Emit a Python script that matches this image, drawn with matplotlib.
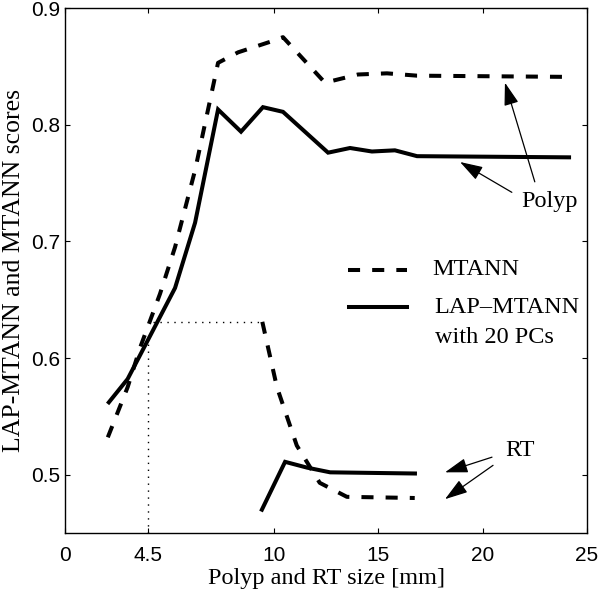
import matplotlib
matplotlib.use("Agg")
import matplotlib.pyplot as plt
from matplotlib.lines import Line2D

# ---- data ----
polyp_mtann_x = [2.05, 3.0, 3.6, 4.55, 5.27, 6.23, 7.33, 8.29, 9.82, 10.44, 12.45, 14.03, 15.42, 16.86, 23.8]
polyp_mtann_y = [0.532, 0.575, 0.609, 0.655, 0.695, 0.761, 0.853, 0.862, 0.871, 0.875, 0.836, 0.843, 0.844, 0.842, 0.841]

polyp_lap_x = [2.1, 3.0, 5.27, 6.23, 7.33, 8.43, 9.48, 10.44, 12.6, 13.65, 14.7, 15.8, 16.86, 24.14]
polyp_lap_y = [0.562, 0.582, 0.660, 0.716, 0.813, 0.794, 0.815, 0.811, 0.776, 0.780, 0.777, 0.778, 0.773, 0.772]

rt_mtann_x = [9.45, 10.15, 11.1, 12.2, 13.5, 16.75]
rt_mtann_y = [0.631, 0.575, 0.525, 0.493, 0.481, 0.480]

rt_lap_x = [9.43, 10.54, 11.6, 12.7, 16.76]
rt_lap_y = [0.470, 0.511, 0.506, 0.502, 0.501]

# dotted guide lines
guide_h_x = [4.2, 9.45]
guide_h_y = [0.631, 0.631]
guide_v_x = [3.97, 3.97]
guide_v_y = [0.45, 0.614]

xticks = [0, 3.97, 10, 15, 20, 25]
xticklabels = ["0", "4.5", "10", "15", "20", "25"]
yticks = [0.5, 0.6, 0.7, 0.8, 0.9]
yticklabels = ["0.5", "0.6", "0.7", "0.8", "0.9"]

serif = "Liberation Serif"
sans = "Liberation Sans"
tfs = 17.5

fig = plt.figure(figsize=(6.0, 5.94), dpi=100)
ax = fig.add_axes([65/600, (594-533)/594, 522/600, 525/594])

lw = 2.9
dash = (0, (3, 3))
ax.plot(polyp_mtann_x, polyp_mtann_y, color="black", lw=lw, linestyle=dash, dash_capstyle="butt")
ax.plot(polyp_lap_x, polyp_lap_y, color="black", lw=lw, solid_joinstyle="miter")
ax.plot(rt_mtann_x, rt_mtann_y, color="black", lw=lw, linestyle=dash, dash_capstyle="butt")
ax.plot(rt_lap_x, rt_lap_y, color="black", lw=lw, solid_joinstyle="miter")

ax.plot(guide_h_x, guide_h_y, color="black", lw=1.0, linestyle=(0, (1, 4)))
ax.plot(guide_v_x, guide_v_y, color="black", lw=1.0, linestyle=(0, (1, 4)))

ax.set_xlim(0, 25)
ax.set_ylim(0.45, 0.9)
ax.set_xticks(xticks)
ax.set_xticklabels(xticklabels, fontfamily=sans, fontsize=15)
ax.set_yticks(yticks)
ax.set_yticklabels(yticklabels, fontfamily=sans, fontsize=15)
ax.tick_params(direction="in", length=3.5, width=0.8, top=True, right=True)
ax.tick_params(axis="x", pad=9.5)
ax.tick_params(axis="y", pad=3.6)
for s in ax.spines.values():
    s.set_linewidth(1.0)

ax.set_xlabel("Polyp and RT size [mm]", fontfamily=serif, fontsize=17.5, labelpad=2)
ax.set_ylabel("LAP-MTANN and MTANN scores", fontfamily=serif, fontsize=18.5, labelpad=4)

# legend (manual)
ax.add_line(Line2D([0.542, 0.655], [0.501, 0.501], transform=ax.transAxes,
                   color="black", lw=lw, linestyle=dash, dash_capstyle="butt"))
ax.add_line(Line2D([0.545, 0.656], [0.430, 0.430], transform=ax.transAxes,
                   color="black", lw=lw))
ax.text(0.703, 0.501, "MTANN", transform=ax.transAxes, fontfamily=serif,
        fontsize=tfs, va="center", ha="left")
ax.text(0.708, 0.430, "LAP\u2013MTANN", transform=ax.transAxes, fontfamily=serif,
        fontsize=tfs, va="center", ha="left")
ax.text(0.708, 0.373, "with 20 PCs", transform=ax.transAxes, fontfamily=serif,
        fontsize=tfs, va="center", ha="left")

# annotations
arrowprops = dict(arrowstyle="-|>,head_length=1.4,head_width=0.45", color="black",
                  lw=0.9, shrinkA=0, shrinkB=0)
ax.annotate("", xy=(21.07, 0.836), xytext=(22.5, 0.751), arrowprops=arrowprops)
ax.annotate("", xy=(18.92, 0.768), xytext=(21.4, 0.742), arrowprops=arrowprops)
ax.text(23.2, 0.7345, "Polyp", fontfamily=serif, fontsize=tfs, ha="center", va="center")

ax.annotate("", xy=(18.2, 0.502), xytext=(20.45, 0.515), arrowprops=arrowprops)
ax.annotate("", xy=(18.2, 0.479), xytext=(20.5, 0.508), arrowprops=arrowprops)
ax.text(21.8, 0.5205, "RT", fontfamily=serif, fontsize=tfs, ha="center", va="center")

fig.savefig("out.png", dpi=100)
